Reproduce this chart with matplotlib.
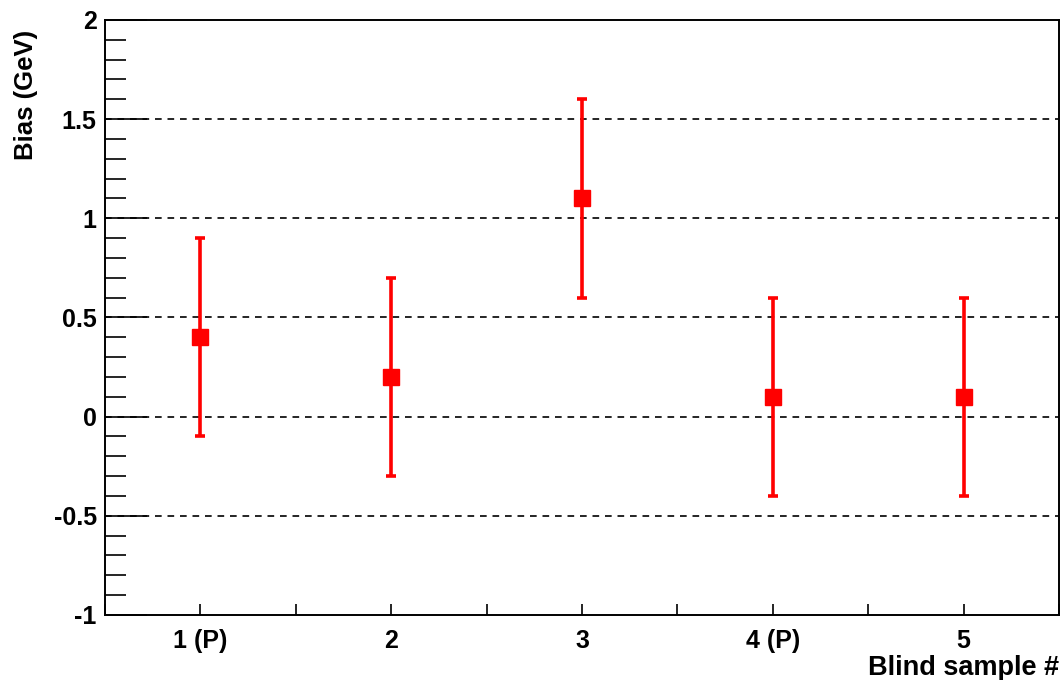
import matplotlib
matplotlib.use('Agg')
import matplotlib.pyplot as plt
from matplotlib.ticker import MultipleLocator

# data
samples = [1, 2, 3, 4, 5]
labels = ['1 (P)', '2', '3', '4 (P)', '5']
bias = [0.4, 0.2, 1.1, 0.1, 0.1]
err = [0.5, 0.5, 0.5, 0.5, 0.5]
grid_levels = [-0.5, 0, 0.5, 1, 1.5]
yticks = [-1, -0.5, 0, 0.5, 1, 1.5, 2]
ylabels = ['-1', '-0.5', '0', '0.5', '1', '1.5', '2']

plt.rcParams['font.family'] = ['Liberation Sans', 'DejaVu Sans']
plt.rcParams['font.weight'] = 'bold'

fig = plt.figure(figsize=(10.62, 6.8), dpi=100)
ax = fig.add_axes([0.0989, 0.0956, 0.8983, 0.875])

for g in grid_levels:
    ax.axhline(g, color='black', lw=1.2, ls=(0, (4, 3.5)), zorder=1)

ax.errorbar(samples, bias, yerr=err, fmt='s', color='#ff0000', ms=11,
            elinewidth=2.6, capsize=3.5, capthick=2.6, zorder=3)

ax.set_xlim(0.5, 5.5)
ax.set_ylim(-1, 2)
ax.set_xticks(samples)
ax.set_xticklabels(labels)
ax.xaxis.set_minor_locator(MultipleLocator(0.5))
ax.set_yticks(yticks)
ax.set_yticklabels(ylabels)
ax.yaxis.set_minor_locator(MultipleLocator(0.1))

ax.tick_params(axis='y', which='major', direction='in', length=30, width=1.2,
               labelsize=18, pad=6)
ax.tick_params(axis='y', which='minor', direction='in', length=15, width=1.2)
ax.tick_params(axis='x', which='both', direction='in', length=8, width=1.2,
               labelsize=18, pad=10)
for s in ax.spines.values():
    s.set_linewidth(1.4)

ax.set_ylabel('Bias (GeV)', fontsize=18.5, fontweight='bold', loc='top')
ax.yaxis.set_label_coords((38 - 105) / 954, (615 - 30) / 595)
ax.set_xlabel('Blind sample #', fontsize=19.5, fontweight='bold', loc='right')
ax.xaxis.set_label_coords(1.0, -(655 - 615) / 595)

fig.savefig('out.png', dpi=100)
